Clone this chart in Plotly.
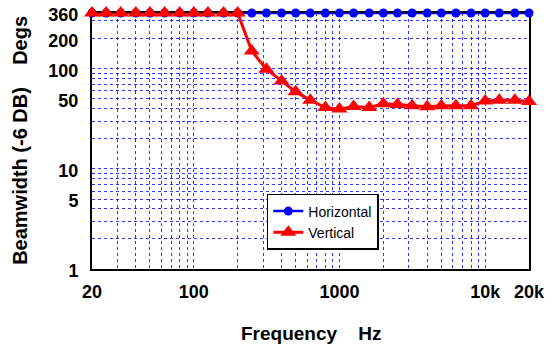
import plotly.graph_objects as go

# ---- data ----
freqs = [20, 25, 31.5, 40, 50, 63, 80, 100, 125, 160, 200, 250, 315, 400, 500, 630, 800,
         1000, 1250, 1600, 2000, 2500, 3150, 4000, 5000, 6300, 8000, 10000, 12500, 16000, 20000]
horizontal = [360] * 31
vertical = [360, 360, 360, 360, 360, 360, 360, 360, 360, 360, 360, 150, 99, 75.5, 59, 48.5, 41,
            39.5, 42, 41, 44.8, 44, 42.7, 41.7, 42.7, 42.7, 42.7, 47.7, 48.5, 48.5, 47]

x_label_vals = [20, 100, 1000, 10000, 20000]
x_label_text = ["20", "100", "1000", "10k", "20k"]
y_label_vals = [1, 5, 10, 50, 100, 200, 360]
y_label_text = ["1", "5", "10", "50", "100", "200", "360"]

# grid positions (log minor grid)
x_grid = [m * 10 ** e for e in (1, 2, 3) for m in range(1, 10) if 20 <= m * 10 ** e <= 9000] + [10000, 20000]
y_grid = [m * 10 ** e for e in (0, 1, 2) for m in range(1, 10) if m * 10 ** e <= 300] + [360]

def labels(grid, vals, texts):
    d = dict(zip(vals, texts))
    return [d.get(g, "") for g in grid]

fig = go.Figure()
fig.add_trace(go.Scatter(x=freqs, y=horizontal, name="Horizontal", mode="lines+markers",
                         line=dict(color="#0000ff", width=2.5),
                         marker=dict(symbol="circle", size=9, color="#0000ff"),
                         cliponaxis=False))
fig.add_trace(go.Scatter(x=freqs, y=vertical, name="Vertical", mode="lines+markers",
                         line=dict(color="#ff0000", width=3),
                         marker=dict(symbol="triangle-up", size=14, color="#ff0000"),
                         cliponaxis=False))

tickfont = dict(family="Liberation Sans, Arial", size=18, color="black", weight="bold")
gridcol = "rgba(30,30,255,0.9)"

fig.update_xaxes(type="log", range=[1.30102, 4.30104], automargin=False,
                 tickvals=x_grid, ticktext=labels(x_grid, x_label_vals, x_label_text),
                 tickfont=tickfont, showgrid=True, gridcolor=gridcol, griddash="dot", gridwidth=1,
                 showline=True, linecolor="black", linewidth=2, mirror=True, layer="below traces",
                 ticks="", ticklabelstandoff=5, ticklabeloverflow="allow", zeroline=False)
fig.update_yaxes(type="log", range=[0, 2.5564], automargin=False,
                 tickvals=y_grid, ticktext=labels(y_grid, y_label_vals, y_label_text),
                 tickfont=tickfont, showgrid=True, gridcolor=gridcol, griddash="dot", gridwidth=1,
                 showline=True, linecolor="black", linewidth=2, mirror=True, layer="below traces",
                 ticks="", ticklabelstandoff=8, ticklabelshift=2, ticklabeloverflow="allow",
                 zeroline=False)

fig.add_annotation(text="Frequency\u00a0\u00a0\u00a0\u00a0Hz", xref="paper", yref="paper",
                   x=0.5, y=-0.25, xanchor="center", yanchor="middle", showarrow=False,
                   font=dict(family="Liberation Sans, Arial", size=19, color="black", weight="bold"))
fig.add_annotation(text="Beamwidth (-6 DB)\u00a0\u00a0\u00a0\u00a0Degs", xref="paper", yref="paper",
                   x=-0.165, y=0.504, xanchor="center", yanchor="middle", textangle=-90,
                   showarrow=False,
                   font=dict(family="Liberation Sans, Arial", size=20, color="black", weight="bold"))

fig.update_layout(
    width=553, height=349, autosize=False,
    margin=dict(l=92, r=24, t=13, b=80, autoexpand=False),
    plot_bgcolor="white", paper_bgcolor="white",
    showlegend=True,
    legend=dict(x=0.40, y=0.293, xanchor="left", yanchor="top",
                bordercolor="black", borderwidth=1.5, bgcolor="white",
                font=dict(family="Liberation Sans, Arial", size=14, color="black"),
                tracegroupgap=0, itemwidth=30),
)

# remove the default 8px page margin so the figure sits at the window's top-left corner
fig.write_html("out.html", config={"displayModeBar": False},
               post_script="document.body.style.margin='0';")
